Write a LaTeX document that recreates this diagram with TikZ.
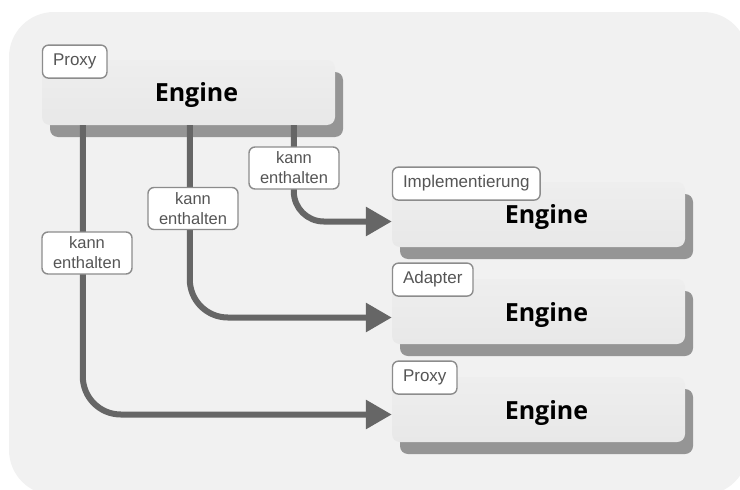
\documentclass[tikz,border=0pt]{standalone}
\usepackage{fontspec}
\setmainfont{Liberation Sans}
\newfontfamily\enginefont{Open Sans}
\usetikzlibrary{arrows.meta,shadows,calc}
\definecolor{bgcol}{HTML}{F1F1F1}
\definecolor{shadowgray}{HTML}{959595}
\definecolor{conncol}{HTML}{666666}
\definecolor{gT}{HTML}{EEEEEE}
\definecolor{gM}{HTML}{CDCDCD}
\definecolor{gB}{HTML}{E8E8E8}
\definecolor{tagborder}{HTML}{8C8C8C}
\definecolor{tagtext}{HTML}{555555}
\tikzset{
  enginebox/.style={rounded corners=8pt, minimum width=293pt, minimum height=65pt,
    top color=gT, middle color=gM, bottom color=gB, inner sep=0pt,
    text depth=0pt, font=\enginefont\bfseries\fontsize{25}{28}\selectfont,
    general shadow={fill=shadowgray, shadow xshift=8pt, shadow yshift=-12pt}},
  tagbox/.style={draw=tagborder, line width=1.4pt, fill=white, rounded corners=6pt,
    minimum height=33pt, inner xsep=10.5pt, inner ysep=0pt, text=tagtext,
    font=\fontsize{17}{20}\selectfont, anchor=south west},
  lblbox/.style={draw=tagborder, line width=1.4pt, fill=white, rounded corners=6pt,
    minimum width=90pt, minimum height=42pt, inner sep=0pt, text=tagtext, align=center,
    font=\fontsize{16.5}{20}\selectfont},
  conn/.style={draw=conncol, line width=6pt, -{Triangle[length=26pt,width=28pt]}},
}
\begin{document}
\begin{tikzpicture}[x=1pt,y=-1pt]
\useasboundingbox (0,0) rectangle (740,490);
\clip (0,0) rectangle (740,490);
\fill[bgcol, rounded corners=45pt] (9,12) rectangle (748,495);

\node[enginebox] (top) at (188.5,92.5) {\hspace*{16pt}Engine};
\node[enginebox] (e1) at (538.5,214.5) {\hspace*{16pt}Engine};
\node[enginebox] (e2) at (538.5,311.5) {\hspace*{16pt}Engine};
\node[enginebox] (e3) at (538.5,409.5) {\hspace*{16pt}Engine};

\node[tagbox] (t0) at ([yshift=-19pt]top.north west) {Proxy};
\node[tagbox] (t1) at ([yshift=-19pt]e1.north west) {Implementierung};
\node[tagbox] (t2) at ([yshift=-18pt]e2.north west) {Adapter};
\node[tagbox] (t3) at ([yshift=-18pt]e3.north west) {Proxy};

\draw[conn, rounded corners=30pt] ([xshift=252pt]top.south west) |- ([yshift=-7pt]e1.west);
\draw[conn, rounded corners=38pt] ([xshift=148pt]top.south west) |- ([yshift=-6pt]e2.west);
\draw[conn, rounded corners=38pt] ([xshift=41pt]top.south west) |- ([yshift=-5pt]e3.west);

\node[lblbox] (l3) at (294,168) {kann\\enthalten};
\node[lblbox] (l2) at (193,208.5) {kann\\enthalten};
\node[lblbox] (l1) at (87,253) {kann\\enthalten};
\end{tikzpicture}
\end{document}
